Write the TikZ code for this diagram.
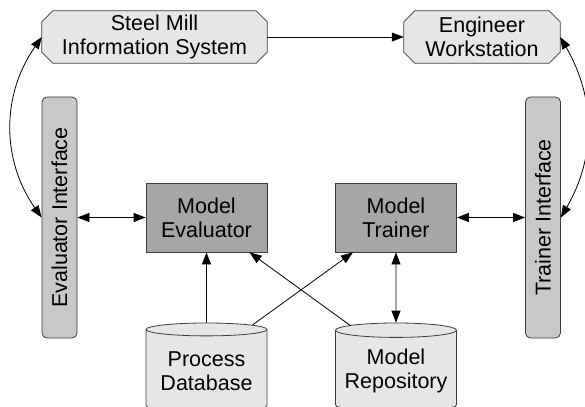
\documentclass[tikz,border=0pt]{standalone}
\usepackage{fontspec}
\setmainfont{Liberation Sans}
\usetikzlibrary{arrows.meta, shapes.geometric, backgrounds}

\definecolor{chiaro}{HTML}{E6E6E6}
\definecolor{medio}{HTML}{C8C8C8}
\definecolor{scuro}{HTML}{A6A6A6}
\definecolor{bordo}{HTML}{3C3C3C}

\begin{document}
\begin{tikzpicture}[x=1bp, y=1bp,
    >={Triangle[length=12bp, width=9bp]},
    testo/.style={font=\fontsize{21.5bp}{24bp}\selectfont, align=center, inner sep=0pt},
    sistema/.style={testo, rectangle, minimum height=52bp},
    ottagono/.style={draw=bordo, fill=chiaro, line width=0.8bp, line join=round},
    interfaccia/.style={testo, rectangle, rounded corners=5bp, draw=bordo, fill=medio,
        line width=0.8bp, rotate=90, minimum width=241bp, minimum height=35bp},
    modulo/.style={testo, rectangle, draw=bordo, fill=scuro, line width=0.8bp,
        minimum width=121bp, minimum height=69bp},
    archivio/.style={testo, cylinder, shape border rotate=90, aspect=0.14, draw=bordo,
        fill=chiaro, line width=0.8bp, minimum width=121bp, minimum height=89bp,
        anchor=shape center},
    freccia/.style={line width=0.8bp}]
    \useasboundingbox (0,0) rectangle (585,406);

    % sistemi esterni
    \node[sistema, minimum width=225bp] (sms) at (154.5,369) {Steel Mill\\Information System};
    \node[sistema, minimum width=156bp] (ews) at (482,369) {Engineer\\Workstation};
    \begin{scope}[on background layer]
        \foreach \n in {sms,ews}
            \draw[ottagono] ([xshift=11bp]\n.north west) -- ([xshift=-11bp]\n.north east)
                -- ([yshift=-11bp]\n.north east) -- ([yshift=11bp]\n.south east)
                -- ([xshift=-11bp]\n.south east) -- ([xshift=11bp]\n.south west)
                -- ([yshift=11bp]\n.south west) -- ([yshift=-11bp]\n.north west) -- cycle;
    \end{scope}

    % interfacce
    \node[interfaccia] (evalif) at (59.5,188.5) {Evaluator Interface};
    \node[interfaccia] (trainif) at (543,188.5) {Trainer Interface};

    % moduli
    \node[modulo] (evaluator) at (206.5,188.5) {Model\\Evaluator};
    \node[modulo] (trainer) at (396,188.5) {Model\\Trainer};

    % archivi
    \node[archivio] (processdb) at (206.5,38.5) {Process\\Database};
    \node[archivio] (repo) at (396,38.5) {Model\\Repository};

    % collegamenti in alto
    \draw[freccia,->] (sms.east) -- (ews.west);
    \draw[freccia,<->] (sms.west) to[out=235, in=125] (evalif.north);
    \draw[freccia,<->] (ews.east) to[out=-60, in=60] (trainif.south);

    % collegamenti orizzontali
    \draw[freccia,<->] (evalif.south) -- (evaluator.west);
    \draw[freccia,<->] (trainer.east) -- (trainif.north);

    % collegamenti dagli archivi
    \draw[freccia,->] (processdb.90) -- (evaluator.south);
    \draw[freccia,->] (processdb.45) -- (trainer.219);
    \draw[freccia,->] (repo.135) -- (evaluator.-39);
    \draw[freccia,<->] (repo.90) -- (trainer.south);
\end{tikzpicture}
\end{document}
